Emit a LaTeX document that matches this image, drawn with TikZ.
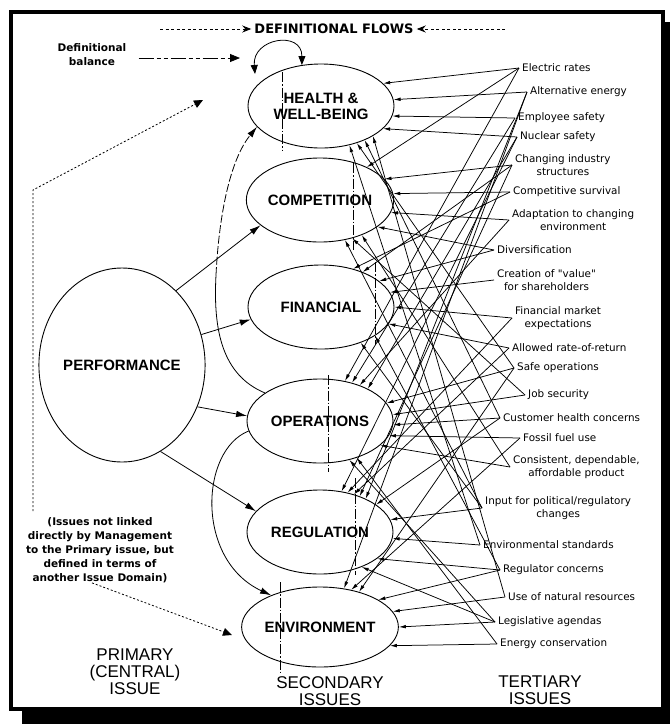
\documentclass[tikz,border=0pt]{standalone}
\usepackage{fontspec}
\setmainfont{Liberation Sans}
\newfontfamily\dejavu{DejaVu Sans}
\usetikzlibrary{shapes.geometric, arrows.meta}
\tikzset{
  issue/.style = {
    ellipse, draw=black, line width=0.9pt,
    minimum width=146pt, minimum height=84pt, inner sep=0pt,
    align=center, font=\fontsize{15}{16}\selectfont\bfseries
  },
  tert/.style = {
    anchor=west, inner sep=3pt, align=center,
    font=\dejavu\fontsize{10.4}{13}\selectfont
  },
  note/.style = {
    align=center, inner sep=0pt,
    font=\dejavu\bfseries\fontsize{10.5}{14}\selectfont
  },
  lbl/.style = {align=center, inner sep=0pt, font=\fontsize{17}{17}\selectfont},
  link/.style    = {-{Latex[length=7pt,width=3.6pt]}, line width=0.75pt},
  parr/.style    = {-{Latex[length=11pt,width=6.5pt]}, line width=0.8pt},
  divline/.style = {line width=0.75pt, dash pattern=on 10pt off 2pt on 1.5pt off 2pt},
  dotarr/.style  = {-{Triangle[length=9pt,width=8pt]}, line width=0.8pt,
                    dash pattern=on 2pt off 2pt},
  flowarr/.style = {-{Stealth[length=9pt,width=7pt]}, line width=0.8pt,
                    dash pattern=on 3pt off 2.5pt},
  balarr/.style  = {-{Triangle[length=10pt,width=8pt]}, line width=0.8pt,
                    dash pattern=on 15pt off 3pt on 4pt off 3pt on 4pt off 3pt}
}

\begin{document}
\begin{tikzpicture}[x=1pt, y=-1pt]
\useasboundingbox (0,0) rectangle (670,724);

%% frame with shadow
\fill[black] (22,22) rectangle (670,724);
\draw[line width=4pt, fill=white] (11,11.5) rectangle (663,709);

%% primary issue
\node[issue, minimum height=194pt] (pf) at (122,365) {PERFORMANCE};

%% secondary issues
\node[issue] (hw) at (321,106) {HEALTH \&\\WELL-BEING};
\node[issue] (cp) at (320,200) {COMPETITION};
\node[issue] (fn) at (321,307) {FINANCIAL};
\node[issue] (op) at (320,421) {OPERATIONS};
\node[issue] (rg) at (320,532) {REGULATION};
\node[issue, minimum height=80pt] (en) at (320,627) {ENVIRONMENT};

%% dash-dot lines through the ellipses
\foreach \n/\dx/\ya/\yb in {hw/-39/-34/44, cp/33/-37/50, fn/54/-45/38,
                            op/8/-46/51, rg/35/-54/43, en/-40/-45/45}
  \draw[divline] ([shift={(\dx,\ya)}]\n.center) -- ([shift={(\dx,\yb)}]\n.center);

%% tertiary issues
\node[tert] (t1)  at (519,68)  {Electric rates};
\node[tert] (t2)  at (527,92)  {Alternative energy};
\node[tert] (t3)  at (515,118) {Employee safety};
\node[tert] (t4)  at (517,137) {Nuclear safety};
\node[tert] (t5)  at (512,165) {Changing industry\\structures};
\node[tert] (t6)  at (510,192) {Competitive survival};
\node[tert] (t7)  at (509,220) {Adaptation to changing\\environment};
\node[tert] (t8)  at (494,250) {Diversification};
\node[tert] (t9)  at (494,280) {Creation of "value"\\for shareholders};
\node[tert] (t10) at (512,318) {Financial market\\expectations};
\node[tert] (t11) at (509,348) {Allowed rate-of-return};
\node[tert] (t12) at (514,368) {Safe operations};
\node[tert] (t13) at (525,395) {Job security};
\node[tert] (t14) at (500,418) {Customer health concerns};
\node[tert] (t15) at (520,438) {Fossil fuel use};
\node[tert] (t16) at (510,467) {Consistent, dependable,\\affordable product};
\node[tert] (t17) at (482,508) {Input for political/regulatory\\changes};
\node[tert] (t18) at (480,545) {Environmental standards};
\node[tert] (t19) at (500,570) {Regulator concerns};
\node[tert] (t20) at (505,597) {Use of natural resources};
\node[tert] (t21) at (495,622) {Legislative agendas};
\node[tert] (t22) at (497,644) {Energy conservation};

%% tertiary -> secondary
\foreach \s/\t/\a in {t1/hw/20, t2/hw/5, t3/hw/352, t4/hw/340, t20/hw/330,
                      t14/hw/322, t12/hw/314, t18/hw/306,
                      t1/cp/35, t5/cp/18, t6/cp/5, t7/cp/350, t8/cp/335,
                      t16/cp/320, t13/cp/310, t17/cp/302,
                      t6/fn/50, t5/fn/40, t8/fn/24, t9/fn/12, t10/fn/0,
                      t11/fn/346, t19/fn/332, t17/fn/318,
                      t1/op/58, t3/op/50, t7/op/42, t4/op/34, t12/op/15,
                      t13/op/5, t14/op/357, t15/op/348, t16/op/338,
                      t22/op/315, t21/op/307,
                      t4/rg/62, t10/rg/55, t11/rg/48, t5/rg/42, t2/rg/36,
                      t14/rg/26, t17/rg/10, t18/rg/355, t19/rg/335, t21/rg/320,
                      t2/en/58, t15/en/50, t12/en/42, t19/en/25, t20/en/12,
                      t21/en/0, t22/en/345}
  \draw[link] (\s.west) -- (\t.\a);

%% primary -> secondary
\draw[parr] (pf.54)  -- (cp.203);
\draw[parr] (pf.21)  -- (fn.190);
\draw[parr] (pf.331) -- (op.176);
\draw[parr] (pf.294) -- (rg.162);

%% issues defined through another domain
\coordinate (bend) at (216,275);
\draw[line width=0.8pt] (op.153) .. controls (222,375) and (213,330) .. (bend);
\draw[parr, dash pattern=on 8pt off 2.5pt] (bend) .. controls (219,215) and (230,160) .. (hw.198);
\draw[parr] (op.188) .. controls (200,450) and (195,560) .. (en.147);

%% definitional flows
\node[font=\dejavu\bfseries\fontsize{13}{14}\selectfont, inner sep=3pt]
      (flows) at (334,29) {DEFINITIONAL FLOWS};
\coordinate (fl) at (160,29);
\coordinate (fr) at (505,29);
\draw[flowarr] (fl) -- (flows.west);
\draw[flowarr] (fr) -- (flows.east);

%% definitional balance
\node[note] (bal) at (92,55) {Definitional\\balance};
\coordinate (balend) at (240,58);
\draw[balarr, shorten <=12pt] (bal.east |- balend) -- (balend);
\coordinate (cycl) at (255,74);
\draw[{Triangle[length=9pt,width=7pt]}-{Triangle[length=9pt,width=7pt]}, line width=0.8pt]
      (cycl) .. controls (252,38) and (302,30) .. (hw.115);

%% note on the left
\node[note] (nt) at (100,550)
      {(Issues not linked\\directly by Management\\to the Primary issue, but\\defined in terms of\\another Issue Domain)};
\coordinate (dcorner) at (33,190);
\coordinate (dtip) at (203,100);
\coordinate (etip) at (232,635);
\draw[dotarr, shorten <=6pt] (nt.north -| dcorner) -- (dcorner) -- (dtip);
\draw[dotarr] ([xshift=-8pt]nt.south) -- (etip);

%% column captions
\node[lbl] (prim) at (135,672) {PRIMARY\\(CENTRAL)\\ISSUE};
\node[lbl] (sec)  at (330,691) {SECONDARY\\ISSUES};
\node[lbl] (ter)  at (540,690) {TERTIARY\\ISSUES};

\end{tikzpicture}
\end{document}
